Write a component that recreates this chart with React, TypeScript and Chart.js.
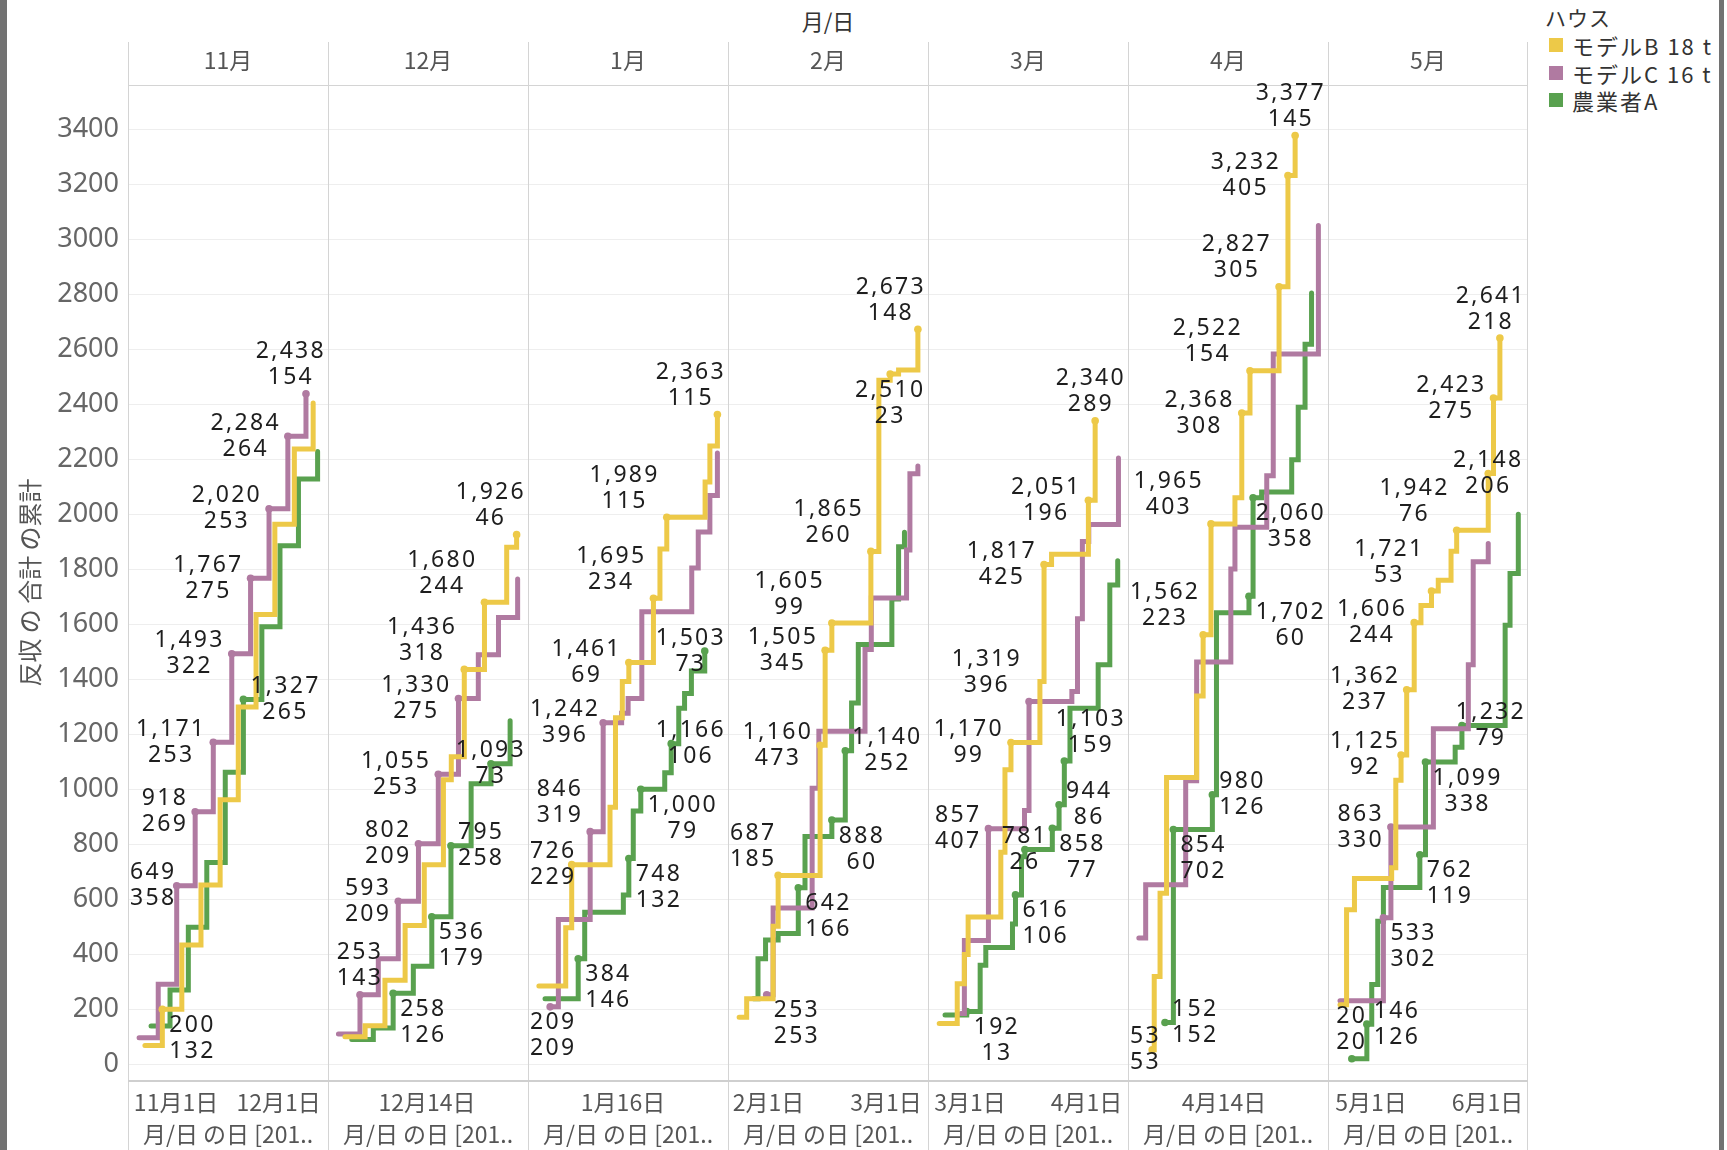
import React, { useEffect, useRef } from 'react';
import { Chart, registerables } from 'chart.js';

Chart.register(...registerables);

type Pt = [number, number];
type Lbl = Record<number, string>;

// ---------- categories / legend ----------
const HOUSES = ['モデルB 18t', 'モデルC 16t', '農業者A'];
const HOUSE_LEGEND = ['モデルB 18 t', 'モデルC 16 t', '農業者A'];
const COLORS = ['#EDC948', '#B07AA1', '#59A14F'];
const MONTHS = ['11月', '12月', '1月', '2月', '3月', '4月', '5月'];

// x ranges per panel: days counted from the 1st of the panel month
const X_MIN = [-13.04, -14.95, -11.78, -8.65, -10.18, -14.07, -10.44];
const X_MAX = [45.44, 43.53, 46.7, 39.01, 43.04, 44.41, 42.78];
const TICK_DAYS = [[1, 31], [14], [16], [1, 29], [1, 32], [14], [1, 32]];
const TICK_LABELS = [
  ['11月1日', '12月1日'], ['12月14日'], ['1月16日'], ['2月1日', '3月1日'],
  ['3月1日', '4月1日'], ['4月14日'], ['5月1日', '6月1日'],
];
const Y_TICKS = [0, 200, 400, 600, 800, 1000, 1200, 1400, 1600, 1800, 2000, 2200, 2400, 2600, 2800, 3000, 3200, 3400];
const Y_MIN = -57;
const Y_MAX = 3561;

// ---------- series: [day, cumulative 反収] ----------
// 11月
const NOV_B: Pt[] = [[-8.1, 68], [-3.0, 200], [2.7, 434], [8.3, 652], [13.9, 962], [19.2, 1299], [24.4, 1636], [29.9, 1964], [35.6, 2237], [41.1, 2405]];
const NOV_C: Pt[] = [[-9.8, 97], [-4.2, 291], [1.2, 649], [6.6, 918], [11.9, 1171], [17.3, 1492.6], [22.8, 1767.2], [28.2, 2020], [33.7, 2284], [39.0, 2438]];
const NOV_A: Pt[] = [[-6.3, 139], [-0.75, 270], [4.6, 498], [10.0, 734], [15.4, 1062], [20.7, 1327], [26.1, 1591], [31.4, 1886], [36.8, 2128], [42.4, 2228]];
// 12月
const DEC_B: Pt[] = [[-10.0, 100], [-4.1, 140], [1.7, 306], [7.6, 505], [13.2, 726], [18.8, 1035], [21.1, 1118], [24.9, 1436], [30.8, 1680], [37.3, 1880], [40.2, 1926]];
const DEC_C: Pt[] = [[-11.9, 110], [-5.6, 253], [-0.24, 384], [5.6, 593], [11.5, 802], [17.3, 1055], [23.2, 1330], [29.0, 1489], [34.9, 1625], [40.5, 1765]];
const DEC_A: Pt[] = [[-8.0, 90], [-1.7, 132], [4.1, 258], [10.0, 357], [15.4, 536.4], [21.0, 794.6], [26.9, 1020], [32.7, 1093], [38.3, 1249]];
// 1月
const JAN_B: Pt[] = [[-8.6, 285], [-0.75, 497], [1.0, 726], [12.2, 935], [13.8, 1260], [15.8, 1392], [17.7, 1461], [24.9, 1695], [26.8, 1874], [28.8, 1989], [40.0, 2117], [41.4, 2248], [43.6, 2363]];
const JAN_C: Pt[] = [[-5.3, 209], [-2.9, 527], [6.4, 846], [10.2, 1242], [15.6, 1277], [17.5, 1330], [21.5, 1646], [36.1, 1805], [38.0, 1936], [41.4, 2068], [43.6, 2223]];
const JAN_A: Pt[] = [[-6.8, 238], [2.9, 384], [4.8, 553], [16.1, 616], [17.7, 748], [19.0, 921], [21.2, 1000], [28.2, 1060], [30.1, 1166], [32.3, 1295], [34.0, 1348], [36.0, 1430], [39.9, 1503]];
// 2月
const FEB_B: Pt[] = [[-6.0, 171], [-4.2, 238], [2.1, 502], [3.3, 687], [13.3, 1160], [14.5, 1505.4], [16.1, 1604.6], [25.4, 1865], [27.3, 2487], [30.0, 2510], [32.0, 2525], [36.6, 2673]];
const FEB_C: Pt[] = [[0.57, 253], [2.1, 568], [11.4, 1004], [13.0, 1211], [24.0, 1508], [25.5, 1696], [33.9, 1870], [34.7, 2147], [36.6, 2176]];
const FEB_A: Pt[] = [[-2.6, 238], [-1.5, 384], [0.3, 452], [3.3, 476], [8.1, 642], [9.7, 828], [16.1, 888], [19.3, 1140], [20.8, 1314], [22.4, 1527], [30.4, 1692], [32.0, 1882], [33.4, 1935]];
// 3月
const MAR_B: Pt[] = [[-7.2, 148], [-2.4, 293], [-0.5, 399], [0.5, 536], [9.2, 771], [10.3, 1071], [11.9, 1170], [19.6, 1392], [20.7, 1817], [22.7, 1855], [32.5, 2051], [34.3, 2340]];
const MAR_C: Pt[] = [[-1.4, 185], [-0.5, 450], [5.9, 857], [15.5, 923], [16.7, 1319], [28.1, 1356], [29.6, 1620], [30.9, 1901], [32.6, 1963], [40.5, 2205]];
const MAR_A: Pt[] = [[-5.65, 179], [0.12, 192], [3.7, 360], [5.2, 425], [12.3, 510], [13.1, 616], [14.7, 755], [15.6, 781], [22.9, 858], [24.7, 944], [26.1, 1103], [27.6, 1295], [35.1, 1453], [38.2, 1743], [40.3, 1831]];
// 4月
const APR_B: Pt[] = [[-7.0, 53], [-6.4, 319], [-4.7, 622], [-2.8, 1043], [6.0, 1339], [7.9, 1562], [10.2, 1965], [17.2, 2060], [19.2, 2368], [21.6, 2522], [30.1, 2827], [32.7, 3232], [34.8, 3377]];
const APR_C: Pt[] = [[-10.9, 459], [-8.9, 653], [2.8, 1031], [6.0, 1463], [16.0, 1801], [17.2, 1953], [26.5, 2140], [28.4, 2583], [41.6, 3050]];
const APR_A: Pt[] = [[-3.25, 152], [-0.8, 854], [10.6, 980], [11.8, 1642], [21.3, 1702], [22.5, 2060], [25.0, 2081], [33.8, 2198], [35.7, 2389], [37.7, 2618], [39.6, 2805]];
// 5月
const MAY_B: Pt[] = [[-7.25, 217], [-5.5, 562], [-3.4, 676], [6.5, 715], [7.6, 1033], [9.0, 1125], [10.5, 1362], [12.5, 1606], [14.3, 1668], [17.1, 1721], [18.9, 1760], [22.3, 1866], [23.8, 1942], [32.2, 2148], [33.6, 2423], [35.3, 2641]];
const MAY_C: Pt[] = [[-7.25, 231], [4.3, 533], [6.3, 863], [17.6, 1220], [26.9, 1453], [28.2, 1827], [32.2, 1894]];
const MAY_A: Pt[] = [[-4.1, 20], [-0.1, 146], [1.2, 290], [2.8, 520], [4.3, 643], [14.0, 761.6], [15.5, 1099.4], [23.4, 1153], [25.2, 1232], [36.7, 1597], [38.0, 1785], [40.2, 2000]];

// ---------- which points carry a label, and where it sits (L/C/R + T/M/B) ----------
const NOV_B_LBL: Lbl = { 1: 'RB' };
const NOV_C_LBL: Lbl = { 2: 'LM', 3: 'LM', 4: 'LM', 5: 'LM', 6: 'LM', 7: 'LM', 8: 'LM', 9: 'CT' };
const NOV_A_LBL: Lbl = { 5: 'RM' };
const DEC_B_LBL: Lbl = { 7: 'LT', 8: 'LT', 10: 'CT' };
const DEC_C_LBL: Lbl = { 1: 'CT', 3: 'LM', 4: 'LM', 5: 'LM', 6: 'LM' };
const DEC_A_LBL: Lbl = { 2: 'RB', 4: 'RB', 5: 'RM', 7: 'CM' };
const JAN_B_LBL: Lbl = { 2: 'LM', 6: 'LM', 7: 'LT', 9: 'LT', 12: 'CT' };
const JAN_C_LBL: Lbl = { 0: 'CB', 2: 'LT', 3: 'LM' };
const JAN_A_LBL: Lbl = { 1: 'RB', 4: 'RB', 6: 'RB', 8: 'RM', 12: 'CM' };
const FEB_B_LBL: Lbl = { 3: 'LT', 4: 'LM', 5: 'LM', 6: 'LT', 7: 'LT', 9: 'CB', 11: 'CT' };
const FEB_C_LBL: Lbl = { 0: 'RB' };
const FEB_A_LBL: Lbl = { 4: 'RB', 6: 'RB', 7: 'RM' };
const MAR_B_LBL: Lbl = { 6: 'LM', 8: 'LM', 10: 'LM', 11: 'CT' };
const MAR_C_LBL: Lbl = { 2: 'LM', 4: 'LT' };
const MAR_A_LBL: Lbl = { 1: 'RB', 5: 'RB', 7: 'CM', 8: 'RB', 9: 'RM', 10: 'RT' };
const APR_B_LBL: Lbl = { 0: 'LM', 5: 'LT', 6: 'LT', 8: 'LM', 9: 'LT', 10: 'LT', 11: 'LM', 12: 'CT' };
const APR_C_LBL: Lbl = {};
const APR_A_LBL: Lbl = { 0: 'RM', 1: 'RB', 2: 'RM', 4: 'RB', 5: 'RB' };
const MAY_B_LBL: Lbl = { 5: 'LM', 6: 'LM', 7: 'LM', 9: 'LT', 12: 'LT', 13: 'CM', 14: 'LM', 15: 'CT' };
const MAY_C_LBL: Lbl = { 1: 'RB', 2: 'LM' };
const MAY_A_LBL: Lbl = { 0: 'CT', 1: 'RM', 5: 'RB', 6: 'RB', 8: 'RM' };

const PANELS: { s: Pt[]; l: Lbl }[][] = [
  [{ s: NOV_B, l: NOV_B_LBL }, { s: NOV_C, l: NOV_C_LBL }, { s: NOV_A, l: NOV_A_LBL }],
  [{ s: DEC_B, l: DEC_B_LBL }, { s: DEC_C, l: DEC_C_LBL }, { s: DEC_A, l: DEC_A_LBL }],
  [{ s: JAN_B, l: JAN_B_LBL }, { s: JAN_C, l: JAN_C_LBL }, { s: JAN_A, l: JAN_A_LBL }],
  [{ s: FEB_B, l: FEB_B_LBL }, { s: FEB_C, l: FEB_C_LBL }, { s: FEB_A, l: FEB_A_LBL }],
  [{ s: MAR_B, l: MAR_B_LBL }, { s: MAR_C, l: MAR_C_LBL }, { s: MAR_A, l: MAR_A_LBL }],
  [{ s: APR_B, l: APR_B_LBL }, { s: APR_C, l: APR_C_LBL }, { s: APR_A, l: APR_A_LBL }],
  [{ s: MAY_B, l: MAY_B_LBL }, { s: MAY_C, l: MAY_C_LBL }, { s: MAY_A, l: MAY_A_LBL }],
];

const FONT_JP = '"Noto Sans CJK JP", "Noto Sans", sans-serif';
const FONT_NUM = '"Noto Sans", "Noto Sans CJK JP", sans-serif';

const PANEL_W = 200;
const AXIS_W = 128;
const CANVAS_TOP = 42;
const CANVAS_H = 1108;

const labelPlugin = {
  id: 'pointLabels',
  afterDatasetsDraw(chart: any) {
    const ctx = chart.ctx as CanvasRenderingContext2D;
    const a = chart.chartArea;
    const lh = 26;
    const gap = 7;
    ctx.save();
    ctx.font = `23px ${FONT_NUM}`;
    (ctx as any).letterSpacing = '2.3px';
    ctx.fillStyle = '#1e1e1e';
    ctx.textAlign = 'center';
    ctx.textBaseline = 'middle';
    chart.data.datasets.forEach((ds: any, di: number) => {
      const meta = chart.getDatasetMeta(di);
      const lbl: Lbl = ds.pointLabels || {};
      ds.data.forEach((p: any, i: number) => {
        const code = lbl[i];
        if (!code) return;
        const el = meta.data[i];
        const prev = i > 0 ? ds.data[i - 1].y : 0;
        const l1 = Math.round(p.y).toLocaleString('en-US');
        const l2 = String(Math.round(p.y - prev));
        const w = Math.max(ctx.measureText(l1).width, ctx.measureText(l2).width);
        let cx = el.x;
        let cy = el.y;
        if (code[0] === 'L') cx = el.x - gap - w / 2;
        else if (code[0] === 'R') cx = el.x + gap + w / 2;
        if (code[1] === 'T') cy = el.y - 3 - lh;
        else if (code[1] === 'B') cy = el.y + 3 + lh;
        cx = Math.max(a.left + 2 + w / 2, Math.min(a.right - 2 - w / 2, cx));
        ctx.fillText(l1, cx, cy - lh / 2);
        ctx.fillText(l2, cx, cy + lh / 2);
      });
    });
    ctx.restore();
  },
};

const framePlugin = (last: boolean) => ({
  id: 'panelFrame',
  beforeDatasetsDraw(chart: any) {
    const ctx = chart.ctx as CanvasRenderingContext2D;
    const a = chart.chartArea;
    const h = chart.height;
    ctx.save();
    ctx.strokeStyle = '#d4d4d4';
    ctx.lineWidth = 1;
    ctx.beginPath();
    ctx.moveTo(a.left + 0.5, 0);
    ctx.lineTo(a.left + 0.5, h);
    if (last) {
      ctx.moveTo(a.right - 0.5, 0);
      ctx.lineTo(a.right - 0.5, h);
    }
    ctx.moveTo(a.left, a.top + 0.5);
    ctx.lineTo(a.right, a.top + 0.5);
    ctx.stroke();
    ctx.strokeStyle = '#cfcfcf';
    ctx.lineWidth = 2;
    ctx.beginPath();
    ctx.moveTo(a.left, a.bottom + 1);
    ctx.lineTo(a.right, a.bottom + 1);
    ctx.stroke();
    ctx.restore();
  },
});

function makeConfig(i: number): any {
  const first = i === 0;
  const datasets = PANELS[i].map((ser, s) => ({
    label: HOUSES[s],
    data: ser.s.map(([x, y]) => ({ x, y })),
    borderColor: COLORS[s],
    backgroundColor: COLORS[s],
    pointBackgroundColor: COLORS[s],
    borderWidth: 5,
    stepped: 'before',
    fill: false,
    borderCapStyle: 'round',
    borderJoinStyle: 'miter',
    pointRadius: ser.s.map((_, k) => (ser.l[k] ? 3.8 : 0)),
    pointBorderWidth: 0,
    pointHoverRadius: 0,
    pointLabels: ser.l,
  }));
  return {
    type: 'line',
    data: { datasets },
    options: {
      responsive: false,
      animation: false,
      devicePixelRatio: 1,
      events: [],
      layout: { padding: 0, autoPadding: false },
      plugins: { legend: { display: false }, tooltip: { enabled: false } },
      scales: {
        x: {
          type: 'linear',
          position: 'bottom',
          min: X_MIN[i],
          max: X_MAX[i],
          afterBuildTicks: (sc: any) => {
            sc.ticks = TICK_DAYS[i].map((v) => ({ value: v }));
          },
          afterFit: (sc: any) => {
            sc.height = 70;
            sc.paddingLeft = 0;
            sc.paddingRight = 0;
          },
          ticks: {
            autoSkip: false,
            maxRotation: 0,
            padding: 8,
            color: '#555',
            font: { family: FONT_JP, size: 23 },
            callback: (v: number) => {
              const k = TICK_DAYS[i].indexOf(v);
              return k >= 0 ? TICK_LABELS[i][k] : '';
            },
          },
          grid: { display: false, drawTicks: false },
          border: { display: false },
          title: {
            display: true,
            text: '月/日 の日 [201..',
            color: '#555',
            font: { family: FONT_JP, size: 23 },
            padding: { top: 0, bottom: 2 },
          },
        },
        xTop: {
          type: 'category',
          axis: 'x',
          position: 'top',
          labels: [MONTHS[i]],
          offset: true,
          grid: { display: false, drawTicks: false },
          border: { display: false },
          ticks: { padding: 11, color: '#555', font: { family: FONT_JP, size: 23 } },
          afterFit: (sc: any) => {
            sc.height = 43;
            sc.paddingLeft = 0;
            sc.paddingRight = 0;
          },
        },
        y: {
          type: 'linear',
          position: 'left',
          min: Y_MIN,
          max: Y_MAX,
          afterBuildTicks: (sc: any) => {
            sc.ticks = Y_TICKS.map((v) => ({ value: v }));
          },
          afterFit: (sc: any) => {
            sc.width = first ? AXIS_W : 0;
            sc.paddingTop = 0;
            sc.paddingBottom = 0;
          },
          ticks: {
            display: first,
            padding: 9,
            color: '#666',
            font: { family: FONT_NUM, size: 27 },
            callback: (v: number) => String(v),
          },
          grid: { color: '#eeeeee', lineWidth: 1, drawTicks: false },
          border: { display: false },
          title: {
            display: first,
            text: '反収 の 合計 の累計',
            color: '#555',
            font: { family: FONT_JP, size: 24 },
            padding: { top: 15, bottom: 0 },
          },
        },
      },
    },
    plugins: [framePlugin(i === 6), labelPlugin],
  };
}

export default function App() {
  const refs = useRef<(HTMLCanvasElement | null)[]>([]);

  useEffect(() => {
    const charts = refs.current.map((cv, i) => (cv ? new Chart(cv, makeConfig(i)) : null));
    return () => charts.forEach((c) => c && c.destroy());
  }, []);

  const textStyle: React.CSSProperties = { fontFamily: FONT_JP, color: '#333', whiteSpace: 'nowrap' };

  return (
    <div style={{ position: 'absolute', left: 0, top: 0, width: 1727, height: 1150, overflow: 'hidden', background: '#fff' }}>
      {MONTHS.map((m, i) => {
        const left = i === 0 ? 0 : AXIS_W + PANEL_W * i;
        const w = i === 0 ? AXIS_W + PANEL_W : PANEL_W;
        return (
          <canvas
            key={m}
            ref={(el) => { refs.current[i] = el; }}
            width={w}
            height={CANVAS_H}
            style={{ position: 'absolute', left, top: CANVAS_TOP, width: w, height: CANVAS_H, display: 'block' }}
          />
        );
      })}
      <div style={{ ...textStyle, position: 'absolute', left: AXIS_W, width: PANEL_W * 7, top: 6, lineHeight: '28px', fontSize: 22, textAlign: 'center' }}>
        月/日
      </div>
      <div style={{ ...textStyle, position: 'absolute', left: 1545, top: 4, lineHeight: '26px', fontSize: 21, letterSpacing: 1 }}>ハウス</div>
      {HOUSE_LEGEND.map((h, k) => (
        <div key={h} style={{ position: 'absolute', left: 1549, top: 32 + k * 27.5, height: 26, display: 'flex', alignItems: 'center' }}>
          <div style={{ width: 14, height: 14, background: COLORS[k], marginRight: 9 }} />
          <div style={{ ...textStyle, fontSize: 22, lineHeight: '26px', letterSpacing: 2 }}>{h}</div>
        </div>
      ))}
      <div style={{ position: 'absolute', left: 0, top: 0, width: 7, height: 1150, background: '#727272' }} />
      <div style={{ position: 'absolute', left: 1719, top: 0, width: 5, height: 1150, background: '#727272' }} />
    </div>
  );
}
